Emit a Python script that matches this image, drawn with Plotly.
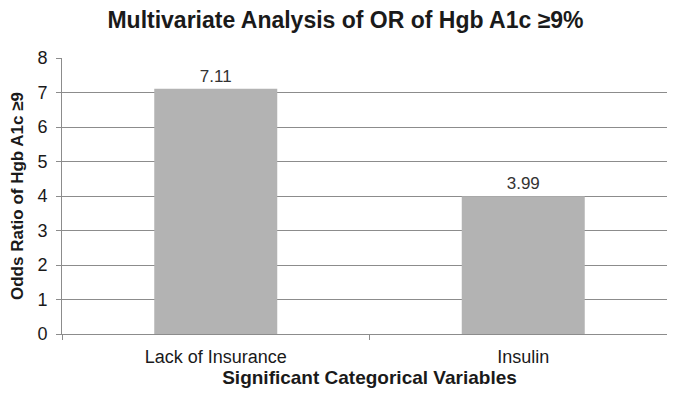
import plotly.graph_objects as go

categories = ["Lack of Insurance", "Insulin"]
odds_ratios = [7.11, 3.99]
value_labels = ["7.11", "3.99"]
y_ticks = [0, 1, 2, 3, 4, 5, 6, 7, 8]

font_family = "Liberation Sans, Arial, sans-serif"
text_color = "#1a1a1a"
grid_color = "#8c8c8c"

fig = go.Figure(
    go.Bar(
        x=categories,
        y=odds_ratios,
        text=value_labels,
        textposition="outside",
        textfont=dict(family=font_family, size=17, color="#333333"),
        marker=dict(color="#b3b3b3", line=dict(width=0)),
        cliponaxis=False,
        showlegend=False,
    )
)

fig.update_layout(
    width=675,
    height=400,
    margin=dict(l=54, r=6, t=50, b=74, autoexpand=False),
    paper_bgcolor="white",
    plot_bgcolor="white",
    bargap=0.6,
    font=dict(family=font_family, color=text_color),
    title=dict(
        text="<b>Multivariate Analysis of OR of Hgb A1c ≥9%</b>",
        x=0.5,
        xanchor="center",
        y=0.97,
        yanchor="middle",
        font=dict(size=23, color=text_color),
    ),
)

fig.update_xaxes(
    type="category",
    range=[-0.5, 1.5],
    showline=True,
    linecolor=grid_color,
    linewidth=1,
    ticks="outside",
    tickson="boundaries",
    ticklen=5,
    tickcolor=grid_color,
    ticklabelstandoff=6,
    tickfont=dict(size=18, color=text_color),
    showgrid=False,
    automargin=False,
    title=dict(
        text="<b>Significant Categorical Variables</b>",
        font=dict(size=19, color=text_color),
        standoff=4,
    ),
)

fig.update_yaxes(
    range=[0, 8],
    tickvals=y_ticks,
    showline=True,
    linecolor=grid_color,
    linewidth=1,
    ticks="outside",
    ticklen=5,
    tickcolor=grid_color,
    ticklabelstandoff=5,
    tickfont=dict(size=18, color=text_color),
    showgrid=True,
    gridcolor=grid_color,
    gridwidth=1,
    zeroline=False,
    automargin=False,
    title=dict(
        text="<b>Odds Ratio of Hgb A1c ≥9</b>",
        font=dict(size=17, color=text_color),
        standoff=11,
    ),
)

fig.write_html("out.html")
